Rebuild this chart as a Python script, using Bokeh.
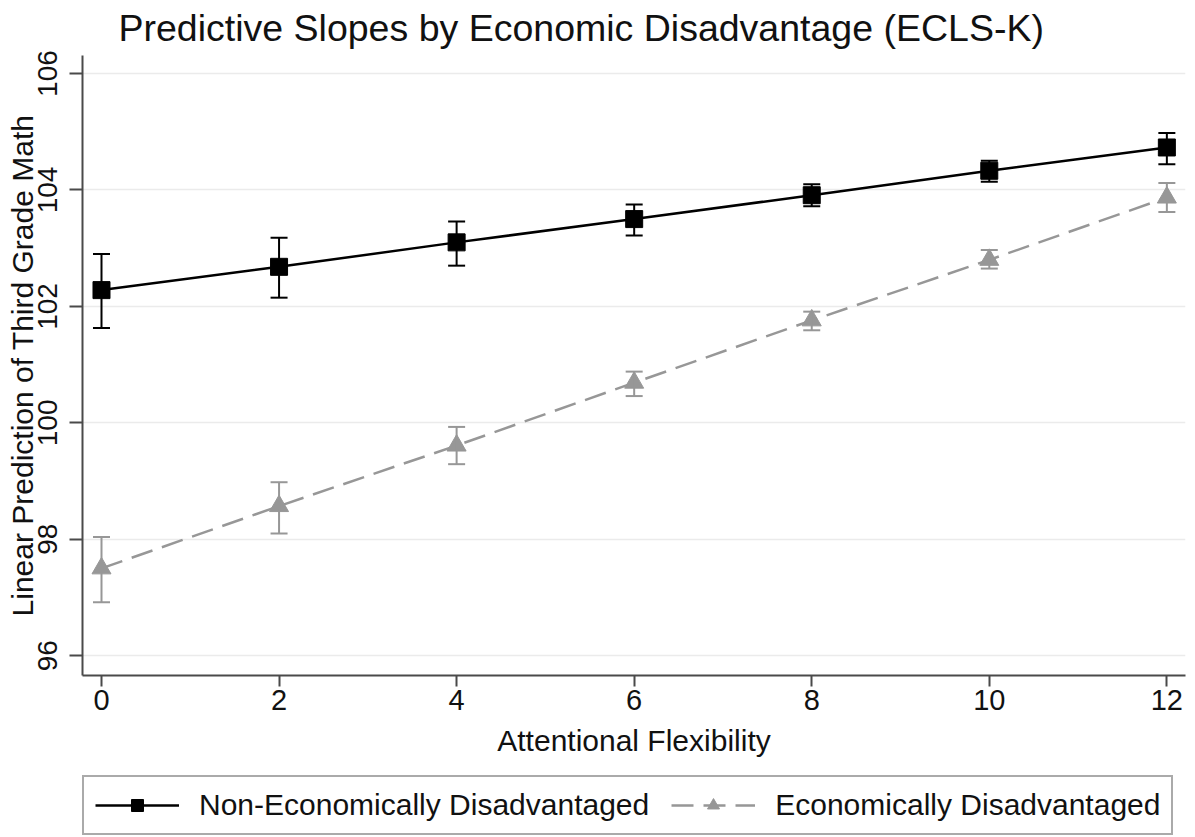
from bokeh.plotting import figure
from bokeh.layouts import column
from bokeh.models import (ColumnDataSource, Whisker, TeeHead, Legend, LegendItem,
                          FixedTicker, Range1d)
from bokeh.embed import file_html
from bokeh.resources import INLINE

# Attentional flexibility levels at which predictions were computed
attention = [0, 2, 4, 6, 8, 10, 12]

# Non-economically disadvantaged: predicted math score and 95% CI
non_disadv = [102.28, 102.68, 103.10, 103.50, 103.91, 104.33, 104.73]
non_disadv_lo = [101.63, 102.15, 102.70, 103.22, 103.72, 104.14, 104.44]
non_disadv_hi = [102.90, 103.18, 103.46, 103.75, 104.10, 104.50, 104.98]

# Economically disadvantaged: predicted math score and 95% CI
disadv = [97.50, 98.57, 99.61, 100.69, 101.76, 102.80, 103.87]
disadv_lo = [96.92, 98.10, 99.29, 100.46, 101.59, 102.65, 103.62]
disadv_hi = [98.04, 98.98, 99.93, 100.88, 101.91, 102.97, 104.12]

x_ticks = [0, 2, 4, 6, 8, 10, 12]
y_ticks = [96, 98, 100, 102, 104, 106]

series_labels = ["Non-Economically Disadvantaged", "Economically Disadvantaged"]

FONT = "Liberation Sans"
GRAY = "#979797"
AXIS = "#4a4a4a"

p = figure(width=1195, height=773, output_backend="svg", toolbar_location=None,
           x_range=Range1d(-0.214, 12.21), y_range=Range1d(95.66, 106.31),
           title="Predictive Slopes by Economic Disadvantage (ECLS-K)",
           min_border_left=82, min_border_right=10, min_border_top=55,
           min_border_bottom=98)

p.background_fill_color = "white"
p.border_fill_color = "white"
p.outline_line_color = None

p.title.text_font = FONT
p.title.text_font_size = "37.5px"
p.title.text_font_style = "normal"
p.title.text_color = "#111111"
p.title.align = "left"
p.title.vertical_align = "top"
p.title.offset = 36
p.title.standoff = 10

# axes
p.xaxis.ticker = FixedTicker(ticks=x_ticks)
p.yaxis.ticker = FixedTicker(ticks=y_ticks)
for ax in (p.xaxis, p.yaxis):
    ax.axis_line_color = AXIS
    ax.axis_line_width = 2
    ax.major_tick_line_color = AXIS
    ax.major_tick_line_width = 2
    ax.major_tick_in = 0
    ax.minor_tick_line_color = None
    ax.major_label_text_font = FONT
    ax.major_label_text_font_size = "29px"
    ax.major_label_text_color = "#111111"
    ax.axis_label_text_font = FONT
    ax.axis_label_text_font_size = "30px"
    ax.axis_label_text_font_style = "normal"
    ax.axis_label_text_color = "#111111"

p.xaxis.axis_label = "Attentional Flexibility"
p.xaxis.major_tick_out = 11
p.xaxis.major_label_standoff = 3
p.xaxis.axis_label_standoff = 11

p.yaxis.axis_label = "Linear Prediction of Third Grade Math"
p.yaxis.major_label_text_font_size = "28px"
p.yaxis.major_tick_out = 13
p.yaxis.major_label_orientation = "vertical"
p.yaxis.major_label_standoff = 12
p.yaxis.axis_label_standoff = -3

p.xgrid.visible = False
p.ygrid.grid_line_color = "#ebebeb"
p.ygrid.grid_line_width = 1.5

src_non = ColumnDataSource(dict(x=attention, y=non_disadv, lo=non_disadv_lo, hi=non_disadv_hi))
src_dis = ColumnDataSource(dict(x=attention, y=disadv, lo=disadv_lo, hi=disadv_hi))

# confidence intervals
for src, col in ((src_non, "black"), (src_dis, GRAY)):
    p.add_layout(Whisker(source=src, base="x", lower="lo", upper="hi",
                         line_color=col, line_width=2, level="glyph",
                         lower_head=TeeHead(size=17, line_color=col, line_width=2),
                         upper_head=TeeHead(size=17, line_color=col, line_width=2)))

NON_LINE = dict(line_color="black", line_width=2.5)
NON_MARK = dict(marker="square", size=17, fill_color="black", line_color="black")
DIS_LINE = dict(line_color=GRAY, line_width=2.5, line_dash="22 10")
DIS_MARK = dict(marker="triangle", size=19, fill_color=GRAY, line_color=GRAY)

p.line("x", "y", source=src_non, **NON_LINE)
p.scatter("x", "y", source=src_non, **NON_MARK)
p.line("x", "y", source=src_dis, **DIS_LINE)
p.scatter("x", "y", source=src_dis, **DIS_MARK)

# legend strip under the chart; its key renderers share the series sources
# but fall outside this strip's ranges, so only the legend keys show
leg = figure(width=1195, height=64, output_backend="svg", toolbar_location=None,
             x_range=Range1d(0, 1), y_range=Range1d(0, 1),
             x_axis_type=None, y_axis_type=None, min_border=0)
leg.outline_line_color = None
leg.background_fill_color = "white"
leg.border_fill_color = "white"
k_non_l = leg.line("x", "y", source=src_non, **NON_LINE)
k_non_m = leg.scatter("x", "y", source=src_non, **NON_MARK)
k_dis_l = leg.line("x", "y", source=src_dis, **DIS_LINE)
k_dis_m = leg.scatter("x", "y", source=src_dis, **DIS_MARK)

legend = Legend(items=[
    LegendItem(label=series_labels[0], renderers=[k_non_l, k_non_m]),
    LegendItem(label=series_labels[1], renderers=[k_dis_l, k_dis_m]),
], orientation="horizontal", location=(0, 2))
legend.label_text_font = FONT
legend.label_text_font_size = "30px"
legend.label_text_color = "#111111"
legend.glyph_width = 84
legend.glyph_height = 30
legend.label_height = 30
legend.label_standoff = 20
legend.spacing = 22
legend.padding = 11
legend.margin = 0
legend.border_line_color = "#555555"
legend.border_line_width = 2
legend.background_fill_color = "white"
legend.background_fill_alpha = 1
leg.add_layout(legend, "center")

layout = column(p, leg, spacing=0)
open("out.html", "w").write(file_html(layout, INLINE))
